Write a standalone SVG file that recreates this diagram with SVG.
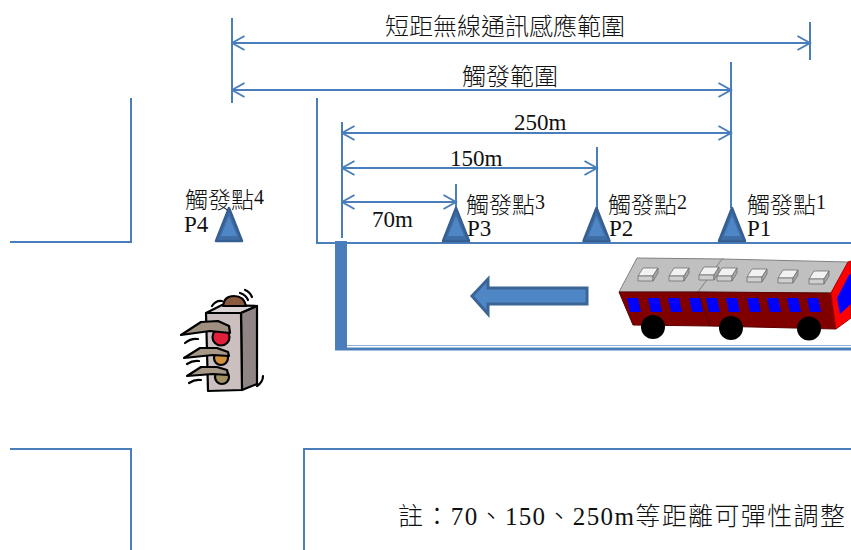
<svg xmlns="http://www.w3.org/2000/svg" width="851" height="550" viewBox="0 0 851 550">
  <style>
    .ln { fill: none; stroke: #4a7ebb; stroke-width: 2; }
    .dim { fill: none; stroke: #4a7ebb; stroke-width: 2; marker-start: url(#chev); marker-end: url(#chev); }
    .txt { font-family: "Liberation Serif", "Noto Sans CJK TC", serif; fill: #111; }
    .cjk { font-size: 24px; font-weight: 300; }
    .lbl { font-size: 23px; font-weight: 300; }
    .num { font-size: 23px; }
    .dig { font-size: 20px; }
    .ink { stroke: #000; stroke-width: 2.2; stroke-linejoin: round; stroke-linecap: round; }
  </style>
  <defs>
    <marker id="chev" viewBox="0 0 15 16" refX="13.5" refY="8" markerWidth="15" markerHeight="16" markerUnits="userSpaceOnUse" orient="auto-start-reverse">
      <path d="M1,1 L13.5,8 L1,15" fill="none" stroke="#4a7ebb" stroke-width="2"/>
    </marker>
    <!-- trigger point marker, apex at (0,0) -->
    <g id="tri">
      <polygon points="0,0 -13,33 13,33" fill="#3f6ea6" stroke="#355f93" stroke-width="2.5" stroke-linejoin="round"/>
      <polygon points="0,8 -8,28 8,28" fill="#4f86c6"/>
    </g>
    <!-- roof vent on the bus -->
    <g id="vent" stroke="#707070" stroke-width="0.8" stroke-linejoin="round">
      <polygon points="-6,-8 9,-8 4,0 -11,0" fill="#f2f2f2"/>
      <polygon points="-11,0 4,0 4,5 -11,5" fill="#cfcfcf"/>
      <polygon points="4,0 9,-8 9,-3 4,5" fill="#a8a8a8"/>
    </g>
  </defs>

  <rect width="851" height="550" fill="#ffffff"/>

  <!-- road edges -->
  <g id="road">
    <path class="ln" d="M10,242 H131 V98"/>
    <path class="ln" d="M317,98 V243 H851"/>
    <path class="ln" d="M10,449 H131 V550"/>
    <path class="ln" d="M304,550 V449 H851"/>
    <rect x="335" y="241" width="12" height="109" fill="#4a7ebb"/>
    <line x1="347" y1="345.5" x2="851" y2="345.5" stroke="#8fb0d8" stroke-width="1.2"/>
    <line x1="335" y1="349" x2="851" y2="349" stroke="#4a7ebb" stroke-width="3"/>
  </g>

  <!-- dimension arrows and extension lines -->
  <g id="connectors">
    <line class="ln" x1="232" y1="18" x2="232" y2="103"/>
    <line class="ln" x1="810" y1="22" x2="810" y2="60"/>
    <line class="ln" x1="731" y1="62" x2="731" y2="208"/>
    <line class="ln" x1="342" y1="122" x2="342" y2="238"/>
    <line class="ln" x1="597" y1="147" x2="597" y2="208"/>
    <line class="ln" x1="456" y1="184" x2="456" y2="208"/>
    <path class="dim" d="M232,43 H810"/>
    <path class="dim" d="M232,90 H731"/>
    <path class="dim" d="M342,133 H731"/>
    <path class="dim" d="M342,168 H597"/>
    <path class="dim" d="M342,202 H456"/>
  </g>

  <!-- range labels -->
  <g id="range-labels" class="txt">
    <text class="cjk" x="385" y="35">短距無線通訊感應範圍</text>
    <text class="cjk" x="462" y="85">觸發範圍</text>
    <text class="num" x="514" y="130">250m</text>
    <text class="num" x="450" y="166">150m</text>
    <text class="num" x="372" y="227">70m</text>
  </g>

  <!-- trigger points -->
  <g id="p4">
    <use href="#tri" x="229" y="208"/>
    <text class="txt" x="185" y="208"><tspan class="lbl">觸發點</tspan><tspan class="dig" dy="-4">4</tspan></text>
    <text class="txt num" x="184" y="232">P4</text>
  </g>
  <g id="p3">
    <use href="#tri" x="456" y="208"/>
    <text class="txt" x="466" y="213"><tspan class="lbl">觸發點</tspan><tspan class="dig" dy="-4">3</tspan></text>
    <text class="txt num" x="467" y="236">P3</text>
  </g>
  <g id="p2">
    <use href="#tri" x="596.5" y="208"/>
    <text class="txt" x="608" y="213"><tspan class="lbl">觸發點</tspan><tspan class="dig" dy="-4">2</tspan></text>
    <text class="txt num" x="609" y="236">P2</text>
  </g>
  <g id="p1">
    <use href="#tri" x="732" y="208"/>
    <text class="txt" x="747" y="213"><tspan class="lbl">觸發點</tspan><tspan class="dig" dy="-4">1</tspan></text>
    <text class="txt num" x="747" y="236">P1</text>
  </g>

  <!-- direction of travel -->
  <g id="direction-arrow">
    <polygon points="472,296 488,279 488,288 587,288 587,304 488,304 488,314" fill="#4f86c6" stroke="#3a6595" stroke-width="3" stroke-linejoin="miter"/>
  </g>

  <!-- bus -->
  <g id="bus">
    <polygon points="637,258 724,259 700,292 619,292" fill="#c0c0c0" stroke="#808080" stroke-width="1"/>
    <polygon points="722,259 848,262 831,293 698,292" fill="#c0c0c0" stroke="#808080" stroke-width="1"/>
    <polygon points="619,292 698,292 710,326 633,325" fill="#800000" stroke="#5a0000" stroke-width="1"/>
    <polygon points="698,292 831,293 836,329 710,326" fill="#800000" stroke="#5a0000" stroke-width="1"/>
    <polygon points="831,293 848,262 851,261 851,318 836,329" fill="#ff0000" stroke="#b00000" stroke-width="1"/>
    <polygon points="837,298 849,275 851,274 851,304 840,314" fill="#0000ff"/>
    <g fill="#0000ff">
      <polygon points="627,298 638,298 641,312 630,312"/>
      <polygon points="648,298 659,298 662,312 651,312"/>
      <polygon points="668,298 679,298 682,312 671,312"/>
      <polygon points="689,298 700,298 703,312 692,312"/>
      <polygon points="706,298 717,298 720,312 709,312"/>
      <polygon points="726,298 737,298 740,312 729,312"/>
      <polygon points="747,298 758,298 761,312 750,312"/>
      <polygon points="767,298 778,298 781,312 770,312"/>
      <polygon points="787,298 798,298 801,312 790,312"/>
      <polygon points="807,298 818,298 821,312 810,312"/>
    </g>
    <use href="#vent" x="649" y="276"/>
    <use href="#vent" x="680" y="276"/>
    <use href="#vent" x="710" y="275"/>
    <use href="#vent" x="728" y="276"/>
    <use href="#vent" x="758" y="277"/>
    <use href="#vent" x="789" y="278"/>
    <use href="#vent" x="820" y="279"/>
    <circle cx="653" cy="327" r="12" fill="#000"/>
    <circle cx="731" cy="328" r="12" fill="#000"/>
    <circle cx="809" cy="328.5" r="12" fill="#000"/>
  </g>

  <!-- traffic light -->
  <g id="traffic-light">
    <polygon class="ink" points="222,305 257,306 241,313 206,313" fill="#dcd4d4"/>
    <polygon class="ink" points="241,313 257,306 257,384 242,390" fill="#8f8585"/>
    <polygon class="ink" points="206,313 241,313 242,390 208,391" fill="#cbbfbf"/>
    <path class="ink" d="M223,306 Q224,296 234,296 Q244,296 246,306 Z" fill="#8b5a3c"/>
    <path class="ink" fill="none" d="M212,306 Q216,300 222,301"/>
    <path class="ink" fill="none" d="M240,293 Q246,295 248,300"/>
    <path class="ink" fill="none" d="M245,290 Q250,292 252,297"/>
    <path class="ink" fill="none" d="M263,376 Q263,382 257,386"/>
    <circle class="ink" cx="221" cy="337" r="8.5" fill="#e2203c"/>
    <circle class="ink" cx="221" cy="358" r="7" fill="#d0903e"/>
    <circle class="ink" cx="222" cy="377" r="7" fill="#a29060"/>
    <polygon class="ink" points="181,335 201,322 218,321 229,326 230,333 210,331" fill="#9e8f80"/>
    <polygon class="ink" points="184,358 200,348 217,348 228,352 229,356 213,355" fill="#a89888"/>
    <polygon class="ink" points="187,376 201,367 217,367 227,370 228,375 213,374" fill="#a89888"/>
    <path class="ink" fill="none" d="M185,343 Q191,338 198,339"/>
    <path class="ink" fill="none" d="M187,364 Q193,360 199,361"/>
    <path class="ink" fill="none" d="M189,383 Q195,379 201,380"/>
  </g>

  <!-- note -->
  <g id="note">
    <text class="txt" x="398" y="525" font-size="25" font-weight="300" textLength="447" lengthAdjust="spacing">註：70、150、250m等距離可彈性調整</text>
  </g>
</svg>
